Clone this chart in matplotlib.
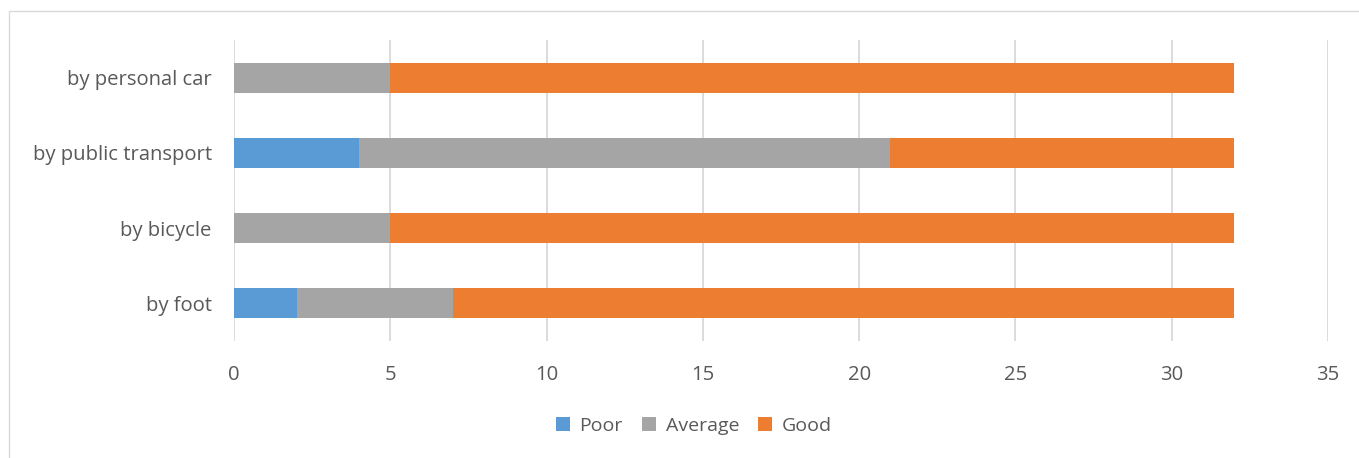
import matplotlib.pyplot as plt
import numpy as np
from matplotlib.patches import Rectangle

plt.rcParams['font.family'] = ['Open Sans', 'DejaVu Sans']

categories = ["by foot", "by bicycle", "by public transport", "by personal car"]
poor = [2, 0, 4, 0]
average = [5, 5, 17, 5]
good = [25, 27, 11, 27]
series_names = ["Poor", "Average", "Good"]
colors = ["#5B9BD5", "#A5A5A5", "#ED7D31"]
xticks = [0, 5, 10, 15, 20, 25, 30, 35]

W, H = 1359, 458
fig = plt.figure(figsize=(W / 100, H / 100), dpi=100)
ax = fig.add_axes([234 / W, 1 - 341 / H, (1328 - 234) / W, (341 - 40) / H])

# outer chart border (only top/left visible in the crop)
fig.patches.append(Rectangle((9 / W, -0.1), 1.2, 1 - 11 / H + 0.1,
                             transform=fig.transFigure, fill=False,
                             edgecolor="#D9D9D9", linewidth=1))

y = np.arange(len(categories))
left = np.zeros(len(categories))
for name, vals, c in zip(series_names, [poor, average, good], colors):
    vals = np.array(vals, dtype=float)
    ax.barh(y, vals, left=left, height=0.4, color=c, label=name, zorder=3)
    left += vals

ax.set_xlim(0, 35)
ax.set_ylim(-0.5, len(categories) - 0.5)
ax.set_xticks(xticks)
ax.set_yticks(y)
ax.set_yticklabels(categories)
ax.grid(axis="x", color="#D9D9D9", linewidth=1.3, zorder=0)
for s in ["top", "right", "bottom", "left"]:
    ax.spines[s].set_visible(False)
ax.tick_params(axis="both", length=0, labelsize=14.6, colors="#595959")
ax.tick_params(axis="x", pad=17)
ax.tick_params(axis="y", pad=16)

ax.legend(loc="center", bbox_to_anchor=(694 / W, 1 - 426 / H), bbox_transform=fig.transFigure,
          ncol=3, frameon=False, fontsize=14, labelcolor="#595959",
          handlelength=0.7, handleheight=0.7, handletextpad=0.5, columnspacing=1.0)

fig.savefig("out.png", dpi=100)
